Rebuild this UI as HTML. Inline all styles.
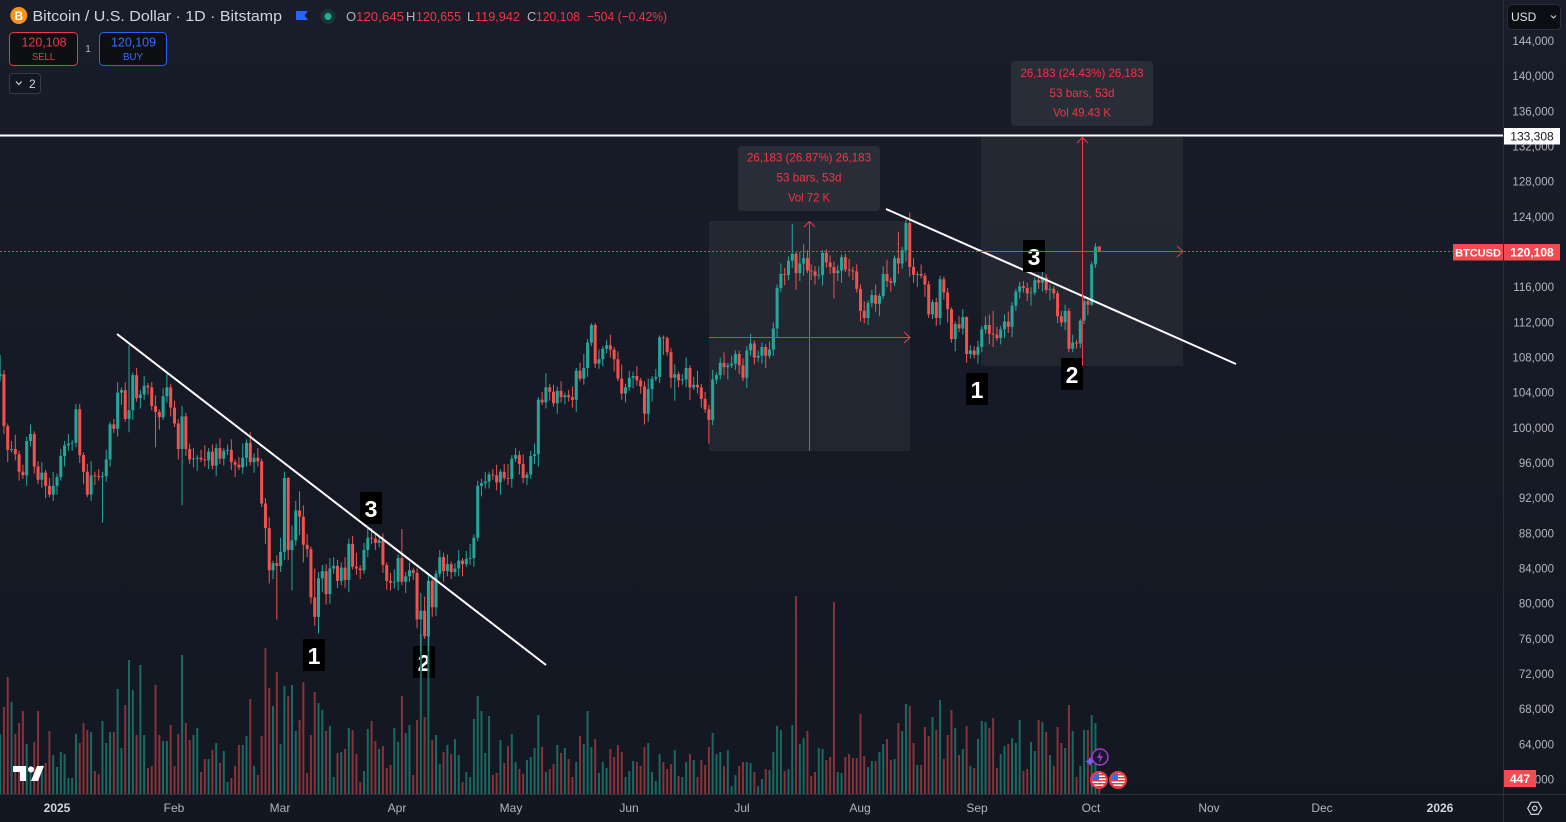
<!DOCTYPE html>
<html><head><meta charset="utf-8">
<style>
html,body{margin:0;padding:0;background:#131722;overflow:hidden;}
svg{display:block;}
text{font-family:"Liberation Sans",Arial,sans-serif;}
</style></head>
<body>
<svg width="1566" height="822" viewBox="0 0 1566 822" xmlns="http://www.w3.org/2000/svg">
<defs>
<linearGradient id="bg" x1="0" y1="0" x2="0" y2="1">
<stop offset="0" stop-color="#191d29"/><stop offset="1" stop-color="#131722"/>
</linearGradient>
<clipPath id="pane"><rect x="0" y="0" width="1503" height="794"/></clipPath>
<clipPath id="f1"><circle cx="1099" cy="780" r="7"/></clipPath>
<clipPath id="f2"><circle cx="1118" cy="780" r="7"/></clipPath>
</defs>
<rect width="1566" height="822" fill="url(#bg)"/>

<!-- measurement rectangles -->
<rect x="709" y="221" width="201" height="230" fill="#ffffff" fill-opacity="0.055"/>
<rect x="981" y="137" width="202" height="229" fill="#ffffff" fill-opacity="0.055"/>

<!-- number labels -->
<g font-weight="bold" font-size="23" fill="#ffffff" text-anchor="middle">
<rect x="360" y="492" width="22" height="32" fill="#000"/><text x="371" y="517">3</text>
<rect x="303" y="639" width="22" height="32" fill="#000"/><text x="314" y="664">1</text>
<rect x="413" y="646" width="22" height="32" fill="#000"/><text x="424" y="671">2</text>
<rect x="966" y="373" width="22" height="32" fill="#000"/><text x="977" y="398">1</text>
<rect x="1061" y="358" width="22" height="32" fill="#000"/><text x="1072" y="383">2</text>
</g>

<g clip-path="url(#pane)">
<!-- volume -->
<g transform="matrix(3.79 0 0 -1 57 794)" fill="none" stroke-width="2">
<path vector-effect="non-scaling-stroke" stroke="#1a6a61" d="M-15 0V60 M-12 0V92 M-8 0V50 M-7 0V28 M-4 0V29 M-1 0V39 M0 0V27 M1 0V42 M2 0V40 M3 0V16 M4 0V16 M5 0V60 M9 0V62 M12 0V73 M13 0V51 M14 0V62 M16 0V105 M17 0V46 M19 0V134 M20 0V104 M22 0V129 M23 0V59 M28 0V53 M29 0V53 M33 0V139 M36 0V59 M37 0V66 M40 0V35 M42 0V51 M44 0V43 M45 0V12 M49 0V49 M50 0V58 M52 0V28 M57 0V88 M59 0V50 M60 0V108 M62 0V109 M63 0V63 M69 0V91 M70 0V84 M72 0V68 M73 0V17 M75 0V42 M77 0V66 M81 0V23 M82 0V65 M85 0V45 M89 0V66 M90 0V52 M92 0V61 M93 0V69 M96 0V160 M98 0V160 M100 0V59 M101 0V30 M103 0V49 M105 0V55 M106 0V39 M108 0V22 M109 0V17 M110 0V75 M111 0V98 M112 0V83 M113 0V41 M114 0V78 M117 0V54 M120 0V60 M121 0V32 M124 0V34 M125 0V37 M126 0V46 M127 0V79 M129 0V22 M132 0V49 M134 0V46 M137 0V32 M139 0V50 M140 0V83 M141 0V47 M143 0V21 M144 0V32 M145 0V26 M150 0V17 M151 0V23 M152 0V33 M156 0V51 M157 0V22 M158 0V13 M159 0V40 M163 0V44 M165 0V17 M166 0V32 M168 0V34 M173 0V61 M174 0V40 M175 0V42 M177 0V44 M178 0V8 M179 0V19 M182 0V32 M183 0V31 M185 0V8 M186 0V15 M188 0V24 M189 0V42 M190 0V68 M191 0V64 M193 0V25 M194 0V69 M196 0V50 M197 0V56 M201 0V46 M202 0V45 M206 0V22 M207 0V21 M214 0V27 M215 0V33 M217 0V42 M218 0V50 M221 0V35 M223 0V63 M224 0V90 M227 0V29 M231 0V77 M233 0V94 M237 0V66 M239 0V45 M241 0V28 M243 0V55 M244 0V73 M245 0V72 M249 0V40 M250 0V48 M252 0V56 M253 0V51 M254 0V74 M257 0V52 M258 0V43 M260 0V72 M262 0V39 M266 0V46 M268 0V63 M270 0V28 M271 0V64 M273 0V79 M274 0V71"/>
<path vector-effect="non-scaling-stroke" stroke="#86333a" d="M-14 0V87 M-13 0V117 M-11 0V60 M-10 0V71 M-9 0V83 M-6 0V52 M-5 0V83 M-3 0V31 M-2 0V63 M6 0V51 M7 0V71 M8 0V64 M10 0V23 M11 0V20 M15 0V62 M18 0V89 M21 0V59 M24 0V26 M25 0V28 M26 0V109 M27 0V59 M30 0V69 M31 0V28 M32 0V60 M34 0V71 M35 0V54 M38 0V22 M39 0V35 M41 0V44 M43 0V31 M46 0V16 M47 0V28 M48 0V49 M51 0V95 M53 0V19 M54 0V58 M55 0V146 M56 0V106 M58 0V122 M61 0V98 M64 0V74 M65 0V112 M66 0V21 M67 0V59 M68 0V102 M71 0V63 M74 0V41 M76 0V45 M78 0V64 M79 0V40 M80 0V12 M83 0V73 M84 0V53 M86 0V48 M87 0V26 M88 0V29 M91 0V98 M94 0V19 M95 0V74 M97 0V77 M99 0V54 M102 0V42 M104 0V40 M107 0V12 M115 0V19 M116 0V21 M118 0V31 M119 0V48 M122 0V25 M123 0V20 M128 0V47 M130 0V25 M131 0V30 M133 0V41 M135 0V35 M136 0V17 M138 0V58 M142 0V55 M146 0V45 M147 0V37 M148 0V49 M149 0V42 M153 0V32 M154 0V28 M155 0V47 M160 0V32 M161 0V25 M162 0V30 M164 0V18 M167 0V40 M169 0V17 M170 0V34 M171 0V29 M172 0V47 M176 0V28 M180 0V28 M181 0V32 M184 0V22 M187 0V25 M192 0V23 M195 0V198 M198 0V63 M199 0V18 M200 0V22 M203 0V34 M204 0V37 M205 0V192 M208 0V37 M209 0V40 M210 0V36 M211 0V36 M212 0V80 M213 0V38 M216 0V33 M219 0V55 M220 0V34 M222 0V71 M225 0V88 M226 0V51 M228 0V29 M229 0V67 M230 0V58 M232 0V64 M234 0V35 M235 0V59 M236 0V84 M238 0V39 M240 0V68 M242 0V26 M246 0V66 M247 0V76 M248 0V26 M251 0V50 M255 0V23 M256 0V25 M259 0V74 M261 0V62 M263 0V28 M264 0V67 M265 0V51 M267 0V89 M269 0V17 M272 0V64 M275 0V15"/>
</g>
<!-- candles -->
<g transform="matrix(3.79 0 0 -8.792 57 1307.048)" fill="none">
<path vector-effect="non-scaling-stroke" stroke="#26a69a" stroke-width="1" d="M-15 105.3V108.3 M-12 97.2V98.5 M-8 93.4V99 M-7 97.9V100.4 M-4 93.2V96.1 M-1 91.7V95 M0 92.4V94.8 M1 94V97.6 M2 95.6V98.5 M3 97.4V99.3 M4 97.4V98.6 M5 97.8V102.7 M9 91.7V96.2 M12 89.2V95 M13 93.9V97.5 M14 95.6V100.7 M16 99V105.2 M17 102.6V104.6 M19 99.5V109.4 M20 100.9V106.3 M22 102.2V104.3 M23 103.2V105.9 M28 100.9V104.5 M29 102.9V106.2 M33 91.2V102.5 M36 95.5V97.7 M37 95.1V96.9 M40 95.3V97.7 M42 94.5V98.2 M44 95.7V97.7 M45 96.9V98.1 M49 94.8V98.2 M50 95.6V98.7 M52 94.9V97.1 M57 82.8V84.9 M59 83.6V87.5 M60 85V95 M62 81.5V88.9 M63 86.6V91.7 M69 76.6V83.6 M70 81.3V84.4 M72 80V85.2 M73 83.4V85.3 M75 82.1V84.7 M77 81.3V87.4 M81 83.4V86.9 M82 85.3V88.7 M85 86.4V87.8 M89 81.7V83.9 M90 81.5V85.6 M92 81.2V83.6 M93 82.5V84.7 M96 74.5V81.2 M98 74.6V83.5 M100 78.6V83.8 M101 83V86.1 M103 83.1V85.6 M105 83.1V84.6 M106 83.1V86.1 M108 84.2V86 M109 84.4V86.8 M110 84.2V87.9 M111 87.1V94 M112 92.2V94.2 M113 93.1V95 M114 93.1V95 M117 92.4V95.3 M120 93.2V96.9 M121 96.1V97.7 M124 93.5V95 M125 94.2V97.4 M126 95.9V98.2 M127 95.6V103.5 M129 102.2V106.2 M132 101.6V104.7 M134 102.7V104 M137 101.8V106.8 M139 104.9V108.4 M140 105.8V110.1 M141 109.3V111.9 M143 106.7V108.9 M144 107V109.3 M145 108.5V110 M150 102.9V105 M151 104.2V106.5 M152 104.5V106.4 M156 100.7V105.6 M157 103V105.9 M158 105.3V106.7 M159 105.1V110.5 M163 103.1V107.2 M165 104.9V106.1 M166 104.6V108 M168 104.3V105.8 M173 100.3V106.6 M174 105V106.3 M175 105.5V108 M177 105.5V107.4 M178 106.8V108.2 M179 106.6V108.8 M182 104.5V109.3 M183 108.2V110.7 M185 107.5V108.8 M186 107.3V109.7 M188 107.9V109.8 M189 108.2V112 M190 110.3V116.3 M191 115.5V118.7 M193 116.8V119.5 M194 118.2V123.2 M196 116.7V120 M197 117.3V120.9 M201 116.9V118.4 M202 116.2V120.2 M206 116.7V118.5 M207 116.5V119.7 M214 111.7V114.5 M215 113.7V115.7 M217 112.7V115.3 M218 114.7V118.4 M221 116.1V119.6 M223 118.1V120.6 M224 118.9V123.7 M227 116V117.8 M231 112.4V114.6 M233 111.7V117.3 M237 108.7V112.1 M239 110.6V113.5 M241 107.9V109.4 M243 107.3V109.9 M244 108.6V111.6 M245 110.7V112.7 M249 109.5V111.6 M250 110.2V112.9 M252 110.3V114.3 M253 113.3V115.8 M254 114.7V116.6 M257 113.9V116 M258 115.1V117.1 M260 115.5V117.9 M262 114.5V116.3 M266 111.1V114 M268 108.6V110.6 M270 109.1V112.4 M271 111.8V114.8 M273 113.9V118.9 M274 118.2V121"/>
<path vector-effect="non-scaling-stroke" stroke="#26a69a" stroke-width="3" d="M-15 105.9V106.1 M-12 97.5V97.6 M-8 94.6V98.5 M-7 98.5V99.3 M-4 94.1V94.9 M-1 92.4V93.4 M0 93.4V94.4 M1 94.4V96.8 M2 96.8V98 M3 98V98.2 M4 98.2V98.3 M5 98.3V102.1 M9 92.4V94.6 M12 94.4V94.5 M13 94.5V96.4 M14 96.4V100.4 M16 99.9V104 M17 104V104.3 M19 101V102 M20 102V106 M22 103.4V103.8 M23 103.8V104.8 M28 101.2V103.6 M29 103.6V104.6 M33 97.6V101.3 M36 96.4V96.5 M37 96.5V96.6 M40 96.3V97.3 M42 95.7V97.7 M44 96.5V97.4 M45 97.4V97.5 M49 95.5V96.6 M50 96.6V98.3 M52 96.1V96.6 M57 83.8V84.6 M59 84.3V85.9 M60 85.9V94.3 M62 86.1V87.2 M63 87.2V90.6 M69 78.5V82.9 M70 82.9V83.7 M72 81.1V84 M73 84V84.3 M75 82.6V84.1 M77 82.7V86.8 M81 83.8V86.1 M82 86.1V87.5 M85 86.9V87.2 M89 82.4V82.5 M90 82.5V85.2 M92 82.5V83.1 M93 83.1V83.8 M96 78.2V79.2 M98 76.3V82.6 M100 79.6V83.4 M101 83.4V85.3 M103 83.7V84.5 M105 83.6V84 M106 84V84.9 M108 84.5V85.1 M109 85.1V85.2 M110 85.2V87.5 M111 87.5V93.4 M112 93.4V93.7 M113 93.7V93.9 M114 93.9V94.7 M117 93.8V95 M120 94.2V96.5 M121 96.5V96.9 M124 94.3V94.7 M125 94.7V96.8 M126 96.8V97 M127 97V103.2 M129 102.9V104.6 M132 102.8V104.2 M134 103.5V103.7 M137 103.2V106.5 M139 105.6V106.8 M140 106.8V109.7 M141 109.7V111.7 M143 107.3V107.8 M144 107.8V109 M145 109V109.4 M150 103.9V104.6 M151 104.6V105.7 M152 105.7V105.9 M156 101.6V104.4 M157 104.4V105.6 M158 105.6V105.8 M159 105.8V110.3 M163 105.7V106.1 M165 105.4V105.5 M166 105.5V106.8 M168 104.6V104.9 M173 100.9V105.5 M174 105.5V106 M175 106V107.4 M177 106.9V107.1 M178 107.1V107.3 M179 107.3V108.4 M182 105.7V108.8 M183 108.8V109.6 M185 108V108.2 M186 108.2V109.2 M188 108.2V108.9 M189 108.9V111.3 M190 111.3V115.9 M191 115.9V117.5 M193 117.4V119 M194 119V119.8 M196 117.6V118.7 M197 118.7V119.3 M201 117.3V117.4 M202 117.4V119.9 M206 117.6V117.9 M207 117.9V119.4 M214 112.5V114.2 M215 114.2V115.1 M217 114.1V115 M218 115V117.5 M221 116.5V119.3 M223 118.7V120.2 M224 120.2V123.3 M227 117.4V117.5 M231 112.9V114.3 M233 112.5V116.9 M237 110.1V111.8 M239 111.3V112.6 M241 108.4V108.8 M243 108.3V109.2 M244 109.2V111.2 M245 111.2V111.7 M249 110.2V111.2 M250 111.2V112.1 M252 111.5V113.9 M253 113.9V115.5 M254 115.5V116.1 M257 115.3V115.4 M258 115.4V116.8 M260 116.5V117.1 M262 115.7V115.8 M266 112V113.3 M268 109V109.7 M270 109.6V112.2 M271 112.2V114.4 M273 114V118.6 M274 118.6V120.6"/>
<path vector-effect="non-scaling-stroke" stroke="#ef5350" stroke-width="1" d="M-14 99.3V106.6 M-13 96.1V100.5 M-11 96.3V99.2 M-10 94V97.4 M-9 94.2V95.8 M-6 94.8V99.6 M-5 93.6V96.2 M-3 92V95.2 M-2 92.1V94.3 M6 96V102.7 M7 93.6V97.2 M8 92.1V95.9 M10 93.5V95 M11 94V95.3 M15 99.4V101 M18 100.7V105.2 M21 103V106.8 M24 103.8V105.1 M25 102V105.2 M26 97.8V103.7 M27 99.8V102.1 M30 101.3V105 M31 100.1V103.1 M32 96.4V101 M34 96.8V101.7 M35 95.9V98.2 M38 96.1V97.5 M39 95.6V98 M41 95.3V98.1 M43 95.9V98.8 M46 95.2V98.7 M47 94.4V96.4 M48 95.2V96.7 M51 95.7V99.5 M53 95.6V97.7 M54 91V96.5 M55 86.8V92 M56 82.3V89.8 M58 78.2V85.5 M61 85V94.4 M64 87.8V92.8 M65 84.7V91.2 M66 85.3V87.9 M67 80V86.5 M68 77.5V84 M71 79.9V84.5 M74 81.8V85 M76 81.8V85.3 M78 83.9V87.7 M79 83.3V85.8 M80 82.8V84.4 M83 86.8V88.6 M84 86.1V88 M86 83.5V88 M87 81.6V84.7 M88 81.5V83.5 M91 82.1V88.5 M94 82.7V84.1 M95 77.2V84 M97 76V80.8 M99 78.5V83 M102 82.5V85.8 M104 82.8V84.8 M107 83.1V85.2 M115 94.1V95.3 M116 92.9V95.8 M118 94V95.9 M119 93.5V95.9 M122 94.7V97.4 M123 93.7V97 M128 102.6V104.1 M130 103.1V105 M131 102.4V104.9 M133 102.9V105.3 M135 103V104.3 M136 102.3V104.7 M138 105.3V107.4 M142 106.8V111.9 M146 108V110.6 M147 106.4V109.2 M148 105.3V108.7 M149 103.2V107.2 M153 104.8V107 M154 103.9V105.7 M155 100.4V105.3 M160 108.3V110.5 M161 108.2V110.4 M162 104.5V109.1 M164 104.6V106.4 M167 103.2V107.1 M169 103.9V106.5 M170 102.3V105 M171 101.7V104.1 M172 98.2V102.6 M176 106V108.6 M180 106.1V108.8 M181 105.3V107.9 M184 107.2V109.9 M187 106.8V109.5 M192 116.2V118.2 M195 115.7V120 M198 117.6V120.2 M199 116.8V118.6 M200 116.3V118.4 M203 118.2V120.3 M204 117.5V119.6 M205 114.7V118.9 M208 117.7V119.8 M209 117.2V119.2 M210 116.8V118.3 M211 115.4V118.6 M212 112.1V116.3 M213 111.9V114.4 M216 113.2V116.3 M219 116V119.1 M220 115.5V117.1 M222 117.5V122.3 M225 117.2V124.5 M226 116.5V119.3 M228 117V118.6 M229 114.9V117.6 M230 112.5V116.7 M232 111.6V114.8 M234 114.6V117.2 M235 112V115.9 M236 109.7V113.7 M238 110.9V112.7 M240 107.4V112.7 M242 107.9V109.3 M246 109.5V112.9 M247 109.2V113.3 M248 109.9V111.5 M251 110.8V113.2 M255 115.4V116.7 M256 114.4V116.5 M259 115.8V117.4 M261 115.3V117.5 M263 114.7V116.1 M264 111.9V115.6 M265 111.5V113.3 M267 108.6V113.6 M269 109V110 M272 112.8V114.9 M275 119.942V120.655"/>
<path vector-effect="non-scaling-stroke" stroke="#ef5350" stroke-width="3" d="M-14 106.1V100.2 M-13 100.2V97.5 M-11 97.6V97 M-10 97V95 M-9 95V94.6 M-6 99.3V95.6 M-5 95.6V94.1 M-3 94.9V93.4 M-2 93.4V92.4 M6 102.1V96.9 M7 96.9V95 M8 95V92.4 M10 94.6V94.5 M11 94.5V94.4 M15 100.4V99.9 M18 104.3V101 M21 106V103.4 M24 104.8V104.6 M25 104.6V102.5 M26 102.5V101.8 M27 101.8V101.2 M30 104.6V102.3 M31 102.3V100.5 M32 100.5V97.6 M34 101.3V97.6 M35 97.6V96.4 M38 96.6V96.4 M39 96.4V96.3 M41 97.3V95.7 M43 97.7V96.5 M46 97.5V96.1 M47 96.1V95.8 M48 95.8V95.5 M51 98.3V96.1 M53 96.6V96.2 M54 96.2V91.4 M55 91.4V88.6 M56 88.6V83.8 M58 84.6V84.3 M61 94.3V86.1 M64 90.6V89.9 M65 89.9V86.7 M66 86.7V86.2 M67 86.2V80.7 M68 80.7V78.5 M71 83.7V81.1 M74 84.3V82.6 M76 84.1V82.7 M78 86.8V84.2 M79 84.2V84 M80 84V83.8 M83 87.5V87.4 M84 87.4V86.9 M86 87.2V84.4 M87 84.4V82.6 M88 82.6V82.4 M91 85.2V82.5 M94 83.8V83.5 M95 83.5V78.2 M97 79.2V76.3 M99 82.6V79.6 M102 85.3V83.7 M104 84.5V83.6 M107 84.9V84.5 M115 94.7V94.6 M116 94.6V93.8 M118 95V94.3 M119 94.3V94.2 M122 96.9V95.9 M123 95.9V94.3 M128 103.2V102.9 M130 104.6V104.1 M131 104.1V102.8 M133 104.2V103.5 M135 103.7V103.5 M136 103.5V103.2 M138 106.5V105.6 M142 111.7V107.3 M146 109.4V108.9 M147 108.9V107.8 M148 107.8V105.6 M149 105.6V103.9 M153 105.9V105.4 M154 105.4V104.7 M155 104.7V101.6 M160 110.3V110.2 M161 110.2V108.6 M162 108.6V105.7 M164 106.1V105.4 M167 106.8V104.6 M169 104.9V104.6 M170 104.6V103.3 M171 103.3V102.1 M172 102.1V100.9 M176 107.4V106.9 M180 108.4V107.1 M181 107.1V105.7 M184 109.6V108 M187 109.2V108.2 M192 117.5V117.4 M195 119.8V117.6 M198 119.3V117.9 M199 117.9V117.8 M200 117.8V117.3 M203 119.9V118.8 M204 118.8V118.3 M205 118.3V117.6 M208 119.4V118 M209 118V117.9 M210 117.9V117.8 M211 117.8V115.8 M212 115.8V113.3 M213 113.3V112.5 M216 115.1V114.1 M219 117.5V116.7 M220 116.7V116.5 M222 119.3V118.7 M225 123.3V118.3 M226 118.3V117.4 M228 117.5V117.3 M229 117.3V116.3 M230 116.3V112.9 M232 114.3V112.5 M234 116.9V115.4 M235 115.4V113.5 M236 113.5V110.1 M238 111.8V111.3 M240 112.6V108.4 M242 108.8V108.3 M246 111.7V110.7 M247 110.7V110.6 M248 110.6V110.2 M251 112.1V111.5 M255 116.1V115.9 M256 115.9V115.3 M259 116.8V116.5 M261 117.1V115.7 M263 115.8V115.3 M264 115.3V112.7 M265 112.7V112 M267 113.3V109 M269 109.7V109.6 M272 114.4V114 M275 120.645V120.108"/>
</g>
</g>

<!-- trend lines -->
<line x1="117" y1="334" x2="546" y2="665" stroke="#ffffff" stroke-width="2"/>
<line x1="886" y1="209" x2="1236" y2="364" stroke="#ffffff" stroke-width="2"/>
<g font-weight="bold" font-size="23" fill="#ffffff" text-anchor="middle">
<rect x="1023" y="240" width="22" height="32" fill="#000"/><text x="1034" y="265">3</text>
</g>

<!-- horizontal white line -->
<line x1="0" y1="135.5" x2="1503" y2="135.5" stroke="#ffffff" stroke-width="2"/>

<!-- price line dotted -->
<line x1="0" y1="251.5" x2="1453" y2="251.5" stroke="#f23645" stroke-width="1" stroke-dasharray="2 2"/>

<!-- measurement lines -->
<g stroke="#f23645" stroke-width="1" fill="none">
<line x1="709" y1="337.5" x2="910" y2="337.5"/>
<polyline points="904,332 910,337.5 904,343"/>
<line x1="809.5" y1="221" x2="809.5" y2="451"/>
<polyline points="804,227 809.5,221.5 815,227"/>
<line x1="981" y1="251.5" x2="1183" y2="251.5"/>
<polyline points="1177,246 1183,251.5 1177,257"/>
<line x1="1082.5" y1="137" x2="1082.5" y2="366"/>
<polyline points="1077,143 1082.5,137.5 1088,143"/>
</g>
<rect x="738" y="146" width="142" height="65" rx="4" fill="#292d38"/>
<g font-size="12" fill="#f23645" text-anchor="middle">
<text x="809" y="161.5" textLength="124" lengthAdjust="spacingAndGlyphs">26,183 (26.87%) 26,183</text>
<text x="809" y="181.5" textLength="65" lengthAdjust="spacingAndGlyphs">53 bars, 53d</text>
<text x="809" y="201.5" textLength="42" lengthAdjust="spacingAndGlyphs">Vol 72 K</text>
</g>
<rect x="1011" y="61" width="142" height="65" rx="4" fill="#292d38"/>
<g font-size="12" fill="#f23645" text-anchor="middle">
<text x="1082" y="77" textLength="123" lengthAdjust="spacingAndGlyphs">26,183 (24.43%) 26,183</text>
<text x="1082" y="97" textLength="65" lengthAdjust="spacingAndGlyphs">53 bars, 53d</text>
<text x="1082" y="116.5" textLength="58" lengthAdjust="spacingAndGlyphs">Vol 49.43 K</text>
</g>

<!-- event icons -->
<circle cx="1100" cy="757" r="8" fill="#1a1530" stroke="#a23fbf" stroke-width="1.5"/>
<polygon points="1101,751 1097,758 1100,758 1099,763 1103,756 1100,756" fill="#a23fbf"/>
<polygon points="1090,757 1091.5,760 1094.5,761.5 1091.5,763 1090,766 1088.5,763 1085.5,761.5 1088.5,760" fill="#7b5cff"/>
<g clip-path="url(#f1)"><rect x="1090" y="772" width="18" height="16" fill="#ffffff"/>
<rect x="1090" y="774" width="18" height="1.5" fill="#e53935"/><rect x="1090" y="777" width="18" height="1.5" fill="#e53935"/><rect x="1090" y="780" width="18" height="1.5" fill="#e53935"/><rect x="1090" y="783" width="18" height="1.5" fill="#e53935"/><rect x="1090" y="786" width="18" height="1.5" fill="#e53935"/>
<rect x="1090" y="772" width="9" height="8" fill="#3d6bd6"/></g>
<circle cx="1099" cy="780" r="8" fill="none" stroke="#f23645" stroke-width="2"/>
<g clip-path="url(#f2)"><rect x="1109" y="772" width="18" height="16" fill="#ffffff"/>
<rect x="1109" y="774" width="18" height="1.5" fill="#e53935"/><rect x="1109" y="777" width="18" height="1.5" fill="#e53935"/><rect x="1109" y="780" width="18" height="1.5" fill="#e53935"/><rect x="1109" y="783" width="18" height="1.5" fill="#e53935"/><rect x="1109" y="786" width="18" height="1.5" fill="#e53935"/>
<rect x="1109" y="772" width="9" height="8" fill="#3d6bd6"/></g>
<circle cx="1118" cy="780" r="8" fill="none" stroke="#f23645" stroke-width="2"/>

<!-- TV logo -->
<g fill="#ffffff">
<path d="M13 766h13v15h-6v-9h-7z"/>
<circle cx="31" cy="769.5" r="3"/>
<path d="M37 766h7l-6 15h-7z"/>
</g>

<!-- header -->
<circle cx="18.8" cy="15.5" r="8.5" fill="#f7931a"/>
<text x="18.8" y="20" font-size="12" font-weight="bold" fill="#ffffff" text-anchor="middle">B</text>
<text x="32.5" y="21" font-size="14.5" fill="#d1d4dc" textLength="249.5" lengthAdjust="spacingAndGlyphs">Bitcoin / U.S. Dollar · 1D · Bitstamp</text>
<path d="M296 11h12l-3.5 4.5 3.5 4.5h-12z" fill="#2962ff"/>
<circle cx="328" cy="16.5" r="7.5" fill="#1c3234"/>
<circle cx="328" cy="16.5" r="3.6" fill="#22ab94"/>
<g font-size="13">
<text x="346" y="21" fill="#b2b5be">O</text>
<text x="356" y="21" fill="#f23645" textLength="48" lengthAdjust="spacingAndGlyphs">120,645</text>
<text x="406" y="21" fill="#b2b5be">H</text>
<text x="416" y="21" fill="#f23645" textLength="45" lengthAdjust="spacingAndGlyphs">120,655</text>
<text x="467" y="21" fill="#b2b5be">L</text>
<text x="475" y="21" fill="#f23645" textLength="45" lengthAdjust="spacingAndGlyphs">119,942</text>
<text x="527" y="21" fill="#b2b5be">C</text>
<text x="536" y="21" fill="#f23645" textLength="44" lengthAdjust="spacingAndGlyphs">120,108</text>
<text x="587" y="21" fill="#f23645" textLength="80" lengthAdjust="spacingAndGlyphs">−504 (−0.42%)</text>
</g>
<rect x="9.5" y="32.5" width="68" height="33" rx="4" fill="#0e0f13" stroke="#f23645" stroke-width="1"/>
<text x="44" y="46.5" font-size="12.5" fill="#f23645" text-anchor="middle" textLength="45" lengthAdjust="spacingAndGlyphs">120,108</text>
<text x="43.5" y="60" font-size="10.5" fill="#f23645" text-anchor="middle" textLength="23" lengthAdjust="spacingAndGlyphs">SELL</text>
<text x="88" y="52" font-size="10" fill="#b2b5be" text-anchor="middle">1</text>
<rect x="99.5" y="32.5" width="67" height="33" rx="4" fill="#0e0f13" stroke="#2962ff" stroke-width="1"/>
<text x="133.5" y="46.5" font-size="12.5" fill="#3d6bff" text-anchor="middle" textLength="45" lengthAdjust="spacingAndGlyphs">120,109</text>
<text x="133" y="60" font-size="10.5" fill="#3d6bff" text-anchor="middle" textLength="20" lengthAdjust="spacingAndGlyphs">BUY</text>
<rect x="9.5" y="73.5" width="31" height="20" rx="3" fill="#131722" stroke="#363a45" stroke-width="1"/>
<polyline points="16,81.5 18.8,84.5 21.6,81.5" fill="none" stroke="#d1d4dc" stroke-width="1.2"/>
<text x="29" y="88" font-size="12" fill="#d1d4dc">2</text>

<!-- axes borders -->
<line x1="1503.5" y1="0" x2="1503.5" y2="822" stroke="#2a2e39" stroke-width="1"/>
<line x1="0" y1="794.5" x2="1566" y2="794.5" stroke="#2a2e39" stroke-width="1"/>

<!-- price axis labels -->
<g font-size="11.5" fill="#b2b5be" text-anchor="end">
<text x="1554" y="45">144,000</text>
<text x="1554" y="80.2">140,000</text>
<text x="1554" y="115.3">136,000</text>
<text x="1554" y="150.5">132,000</text>
<text x="1554" y="185.7">128,000</text>
<text x="1554" y="220.8">124,000</text>
<text x="1554" y="256">120,000</text>
<text x="1554" y="291.2">116,000</text>
<text x="1554" y="326.4">112,000</text>
<text x="1554" y="361.5">108,000</text>
<text x="1554" y="396.7">104,000</text>
<text x="1554" y="431.9">100,000</text>
<text x="1554" y="467">96,000</text>
<text x="1554" y="502.2">92,000</text>
<text x="1554" y="537.4">88,000</text>
<text x="1554" y="572.5">84,000</text>
<text x="1554" y="607.7">80,000</text>
<text x="1554" y="642.9">76,000</text>
<text x="1554" y="678">72,000</text>
<text x="1554" y="713.2">68,000</text>
<text x="1554" y="748.4">64,000</text>
<text x="1554" y="783.5">60,000</text>
</g>

<!-- USD box -->
<rect x="1507.5" y="4.5" width="53" height="25" rx="4" fill="#0c0e14" stroke="#2a2e39"/>
<text x="1511" y="21" font-size="12" fill="#e0e3eb">USD</text>
<polyline points="1551,15.5 1553.5,18 1556,15.5" fill="none" stroke="#d1d4dc" stroke-width="1.1"/>

<!-- axis price labels -->
<rect x="1504" y="128" width="56" height="16.5" fill="#ffffff"/>
<text x="1532" y="140.5" font-size="12" fill="#131722" text-anchor="middle">133,308</text>
<rect x="1453" y="244" width="50" height="16.5" fill="#f14c52"/>
<text x="1478" y="256.5" font-size="11" font-weight="bold" fill="#ffffff" text-anchor="middle">BTCUSD</text>
<rect x="1504" y="244" width="56" height="16.5" fill="#f14c52"/>
<text x="1532" y="256.5" font-size="12" font-weight="bold" fill="#ffffff" text-anchor="middle">120,108</text>
<rect x="1504" y="770" width="32" height="17" fill="#f14c52"/>
<text x="1520" y="783" font-size="12" font-weight="bold" fill="#ffffff" text-anchor="middle">447</text>

<!-- time axis -->
<g font-size="12" fill="#b2b5be" text-anchor="middle">
<text x="57" y="812" font-weight="bold" fill="#d1d4dc">2025</text>
<text x="174" y="812">Feb</text>
<text x="280" y="812">Mar</text>
<text x="397" y="812">Apr</text>
<text x="511" y="812">May</text>
<text x="629" y="812">Jun</text>
<text x="742" y="812">Jul</text>
<text x="860" y="812">Aug</text>
<text x="977" y="812">Sep</text>
<text x="1091" y="812">Oct</text>
<text x="1209" y="812">Nov</text>
<text x="1322" y="812">Dec</text>
<text x="1440" y="812" font-weight="bold" fill="#d1d4dc">2026</text>
</g>
<polygon points="1527.7,808.3 1531.2,802.2 1538.2,802.2 1541.7,808.3 1538.2,814.4 1531.2,814.4" fill="none" stroke="#d1d4dc" stroke-width="1.2"/>
<circle cx="1534.7" cy="808.3" r="2.2" fill="none" stroke="#d1d4dc" stroke-width="1.2"/>
</svg>
</body></html>
